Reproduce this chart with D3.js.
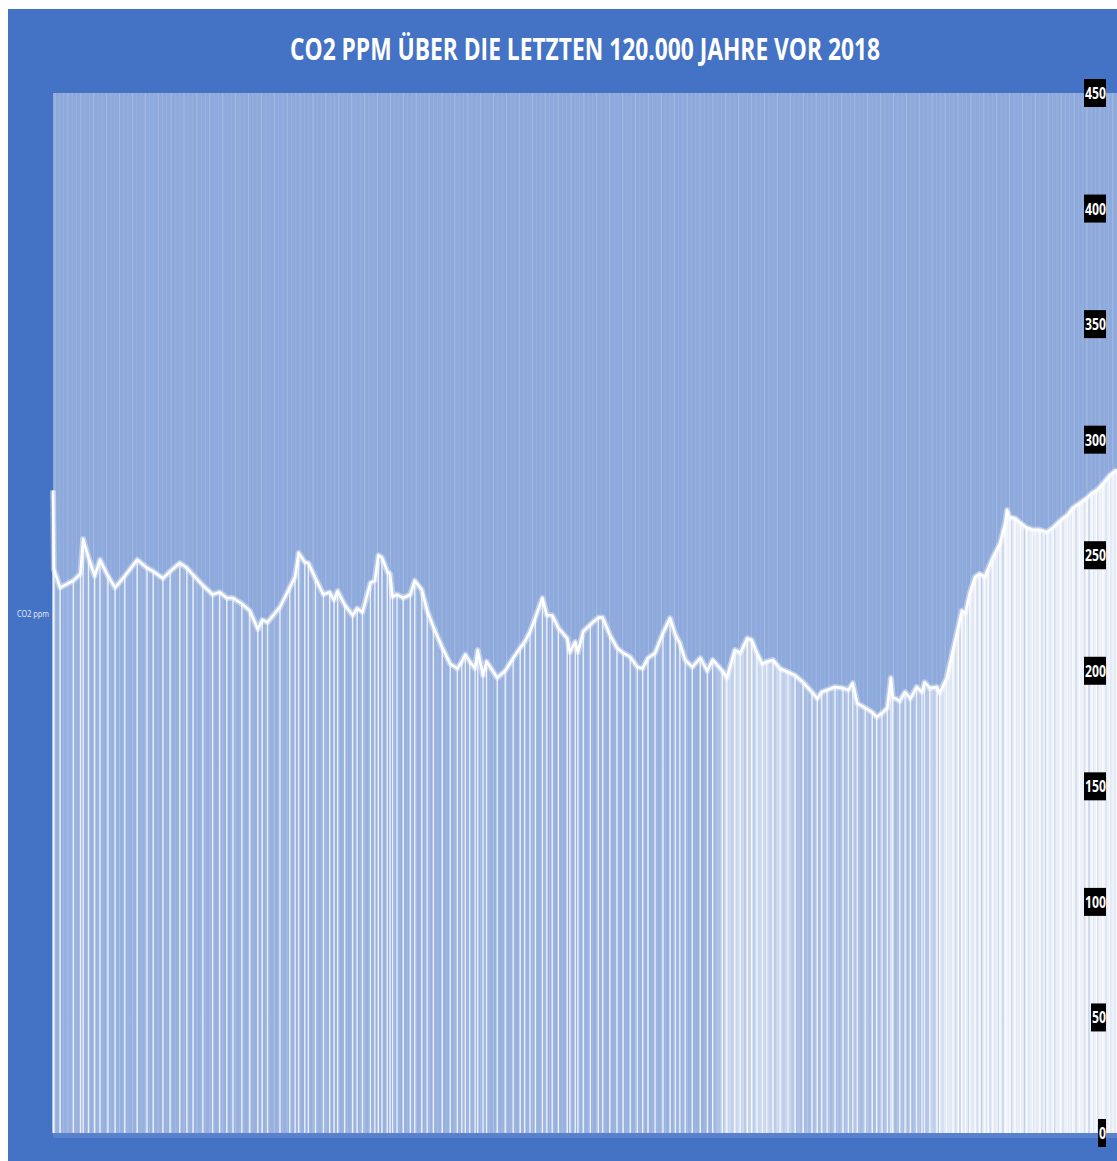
<!DOCTYPE html>
<html>
<head>
<meta charset="utf-8">
<script src="https://cdn.jsdelivr.net/npm/d3@7"></script>
<style>
  body { margin: 0; background: #fff; }
  svg { display: block; }
</style>
</head>
<body>
<svg id="chart" width="1117" height="1161"></svg>
<script>
// thousand years before 2018
const kyBP = [120.0, 119.9, 119.2, 117.7, 116.9, 116.6, 116.0, 115.3, 114.7, 113.8, 113.0, 111.9, 110.5, 109.4, 108.7,
  107.6, 106.8, 105.7, 104.9, 104.2, 103.1, 102.0, 101.2, 100.4, 99.7, 98.7, 97.8, 96.9, 96.4, 95.8, 94.4, 93.3,
  92.7, 92.3, 91.6, 91.2, 90.4, 89.5, 88.8, 88.3, 87.9, 87.1, 86.2, 85.7, 85.1, 84.2, 83.7, 83.3, 82.9, 82.3, 82.0,
  81.7, 81.2, 80.5, 79.7, 79.2, 78.4, 77.8, 77.1, 76.1, 75.2, 74.4, 73.9, 73.5, 73.0, 72.4, 72.1, 71.5, 71.1, 69.9,
  69.0, 68.1, 67.3, 66.8, 66.2, 65.6, 64.8, 64.3, 63.7, 63.0, 62.0, 61.7, 61.1, 60.8, 60.2, 59.4, 58.5, 58.0, 57.2,
  56.4, 55.7, 54.9, 54.1, 53.5, 52.9, 52.1, 51.2, 50.4, 49.8, 49.3, 48.7, 47.9, 47.0, 46.2, 45.6, 44.5, 44.0, 43.1,
  42.5, 41.7, 41.2, 40.6, 40.0, 39.5, 38.8, 38.0, 37.1, 36.3, 35.4, 34.4, 33.8, 33.3, 32.7, 31.8, 30.9, 30.3, 29.8,
  29.3, 28.4, 27.6, 27.1, 26.5, 25.9, 25.5, 25.3, 24.5, 23.9, 23.3, 22.6, 22.0, 21.7, 21.1, 20.3, 20.0, 19.2, 18.5,
  17.9, 17.5, 17.1, 16.6, 16.0, 15.5, 14.9, 14.5, 14.0, 13.2, 12.6, 12.4, 12.1, 11.5, 10.9, 10.2, 9.5, 8.7, 7.9,
  7.2, 6.4, 5.6, 5.0, 4.2, 3.4, 2.8, 2.3, 1.6, 0.8, 0.0];

const co2ppm = [278, 244, 236, 239, 242, 257, 249, 241, 248, 241, 236, 241, 248, 244.5, 243,
  240, 243, 246.6, 244.5, 241.5, 237, 233, 234, 231.5, 231.5, 229, 226, 218, 222, 221, 227.6, 236,
  240.6, 251, 247, 246.6, 240, 233, 234, 230.6, 234.5, 228.5, 224, 227, 225.4, 238, 239, 250, 249, 243, 242,
  232, 233, 231.5, 233, 239, 235, 226, 219, 210, 203, 201, 204, 207, 204, 201, 209, 198, 204, 197,
  200, 205.5, 210, 212.5, 217, 223, 231.5, 224, 224, 218.5, 214, 208, 212.5, 208, 217, 220, 223, 223, 215.5,
  210, 207.7, 206, 201.6, 201, 205.5, 207.7, 216.4, 222.8, 215.5, 212, 204.7, 201.6, 205.5, 200, 204.7, 200, 197, 209,
  207.7, 214, 213.3, 207.7, 203, 204, 204.7, 201, 199.5, 198, 195, 190.8, 188, 190.8, 191.7, 193, 192.5, 191.7, 194.7,
  186, 184, 182, 180, 181.7, 184, 197, 188.6, 187, 190.8, 188, 193, 190.8, 195, 192.5, 193, 190.4, 197, 209,
  219, 226, 225, 233.7, 240.6, 242, 240.6, 244.5, 249, 255, 264, 269.6, 266.5, 266, 264, 262, 261, 261, 260,
  262, 265, 267.4, 270.4, 272.6, 274.8, 277, 278, 281, 284.7, 287];

const yTicks = [0, 50, 100, 150, 200, 250, 300, 350, 400, 450];
const titleText = "CO2 PPM ÜBER DIE LETZTEN 120.000 JAHRE VOR 2018";
const seriesName = "CO2 ppm";

const data = kyBP.map((k, i) => ({ ky: k, ppm: co2ppm[i] }));

const svg = d3.select("svg#chart");
const W = 1117, H = 1161;
const plot = { left: 53, right: 1117, top: 93, bottom: 1133 };

const x = d3.scaleLinear().domain([120, 0]).range([plot.left, plot.right]);
const y = d3.scaleLinear().domain([0, 450]).range([plot.bottom, plot.top]);

// outer background
svg.append("rect")
  .attr("x", 8).attr("y", 9)
  .attr("width", W - 8).attr("height", H - 9)
  .attr("fill", "#4472c4");

// shadow band under plot
svg.append("rect")
  .attr("x", plot.left).attr("y", plot.bottom)
  .attr("width", plot.right - plot.left).attr("height", 5)
  .attr("fill", "#5a82cc");

// plot area
svg.append("rect")
  .attr("x", plot.left).attr("y", plot.top)
  .attr("width", plot.right - plot.left).attr("height", plot.bottom - plot.top)
  .attr("fill", "#8eaadc");

const defs = svg.append("defs");
const grad = defs.append("linearGradient")
  .attr("id", "fillGrad")
  .attr("gradientUnits", "userSpaceOnUse")
  .attr("x1", plot.left).attr("x2", plot.right)
  .attr("y1", 0).attr("y2", 0);
[[0, 0.08], [0.62, 0.1], [0.632, 0.55], [0.69, 0.5], [0.702, 0.25], [0.82, 0.28], [0.838, 0.75], [1, 0.85]]
  .forEach(s => grad.append("stop").attr("offset", s[0]).attr("stop-color", "#fff").attr("stop-opacity", s[1]));

const area = d3.area()
  .x(d => x(d.ky))
  .y0(plot.bottom)
  .y1(d => y(d.ppm));

defs.append("clipPath").attr("id", "underCurve")
  .append("path").datum(data).attr("d", area);

const texture = d3.range(plot.left + 2, plot.right, 4.3);

// faint texture lines over whole plot
svg.append("g")
  .selectAll("line")
  .data(texture)
  .join("line")
  .attr("x1", d => d).attr("x2", d => d)
  .attr("y1", plot.top).attr("y2", plot.bottom)
  .attr("stroke", "#fff")
  .attr("stroke-opacity", (d, i) => i % 3 === 0 ? 0.2 : 0.09)
  .attr("stroke-width", 1);

// area under curve
svg.append("path")
  .datum(data)
  .attr("d", area)
  .attr("fill", "url(#fillGrad)");

// grey-blue gaps between dense columns
svg.append("g")
  .attr("clip-path", "url(#underCurve)")
  .selectAll("line")
  .data(texture)
  .join("line")
  .attr("x1", d => d + 2).attr("x2", d => d + 2)
  .attr("y1", plot.top).attr("y2", plot.bottom)
  .attr("stroke", "#9cb0d8")
  .attr("stroke-opacity", (d, i) => [0.5, 0.15, 0.35, 0.05, 0.25][i % 5])
  .attr("stroke-width", 1.3);

// drop columns
svg.append("g")
  .selectAll("line")
  .data(data)
  .join("line")
  .attr("x1", d => x(d.ky)).attr("x2", d => x(d.ky))
  .attr("y1", d => y(d.ppm)).attr("y2", plot.bottom)
  .attr("stroke", "#fff")
  .attr("stroke-opacity", 0.8)
  .attr("stroke-width", 1.4);

// line
const line = d3.line()
  .x(d => x(d.ky))
  .y(d => y(d.ppm));

svg.append("path")
  .datum(data)
  .attr("d", line)
  .attr("fill", "none")
  .attr("stroke", "#fff")
  .attr("stroke-opacity", 0.4)
  .attr("stroke-width", 6)
  .attr("stroke-linejoin", "round");

svg.append("path")
  .datum(data)
  .attr("d", line)
  .attr("fill", "none")
  .attr("stroke", "#fff")
  .attr("stroke-width", 2.6)
  .attr("stroke-linejoin", "round");

// right axis labels in black boxes
const ax = svg.append("g");
yTicks.forEach(t => {
  const w = String(t).length * 7;
  const g = ax.append("g").attr("transform", `translate(1106,${y(t)})`);
  g.append("rect")
    .attr("x", -w - 1).attr("y", -14)
    .attr("width", w + 1).attr("height", 28)
    .attr("fill", "#000");
  g.append("text")
    .attr("x", -w).attr("y", 6)
    .attr("textLength", w)
    .attr("lengthAdjust", "spacingAndGlyphs")
    .attr("fill", "#fff")
    .attr("font-family", "'Liberation Sans Narrow', 'Open Sans', sans-serif")
    .attr("font-weight", "bold")
    .attr("font-size", 16)
    .text(t);
});

// title
svg.append("text")
  .attr("x", 585).attr("y", 60)
  .attr("text-anchor", "middle")
  .attr("textLength", 590)
  .attr("lengthAdjust", "spacingAndGlyphs")
  .attr("fill", "#fff")
  .attr("font-family", "'Open Sans', sans-serif")
  .attr("font-weight", "bold")
  .attr("font-size", 31)
  .text(titleText);

// series label
svg.append("text")
  .attr("x", 17).attr("y", 617)
  .attr("textLength", 32)
  .attr("lengthAdjust", "spacingAndGlyphs")
  .attr("fill", "#e8eefa")
  .attr("font-family", "'Open Sans', sans-serif")
  .attr("font-size", 9)
  .text(seriesName);
</script>
</body>
</html>
